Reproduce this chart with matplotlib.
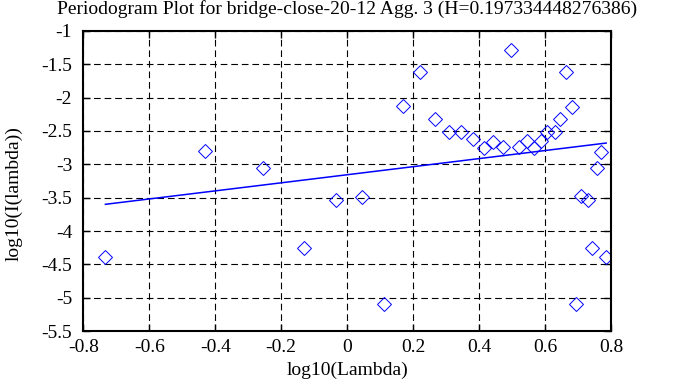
import matplotlib
matplotlib.use("Agg")
import matplotlib.pyplot as plt
import numpy as np

plt.rcParams['font.family'] = ['Liberation Serif', 'DejaVu Serif']
plt.rcParams['axes.unicode_minus'] = False

# Periodogramm-Punkte (log10 Lambda, log10 I(lambda))
log_lambda = [-0.733, -0.431, -0.256, -0.132, -0.034, 0.045, 0.111, 0.170,
              0.220, 0.267, 0.308, 0.344, 0.380, 0.414, 0.442, 0.471, 0.497,
              0.520, 0.544, 0.566, 0.587, 0.607, 0.629, 0.645, 0.664, 0.680,
              0.695, 0.710, 0.730, 0.742, 0.758, 0.770, 0.785]
log_I = [-4.386, -2.795, -3.05, -4.25, -3.535, -3.49, -5.1, -2.125,
         -1.61, -2.325, -2.515, -2.515, -2.625, -2.76, -2.665, -2.735, -1.285,
         -2.74, -2.655, -2.76, -2.645, -2.51, -2.515, -2.325, -1.61, -2.14,
         -5.1, -3.47, -3.54, -4.26, -3.05, -2.81, -4.386]

# Regressionsgerade
slope = 0.6053
intercept = -3.156
H = 0.197334448276386

xt = [-0.8, -0.6, -0.4, -0.2, 0, 0.2, 0.4, 0.6, 0.8]
yt = [-1, -1.5, -2, -2.5, -3, -3.5, -4, -4.5, -5, -5.5]

fig = plt.figure(figsize=(6.95, 3.87), dpi=100)
ax = fig.add_axes([0.1199, 0.1447, 0.7594, 0.7752])

ax.plot(log_lambda, log_I, linestyle='none', marker='D', ms=7.1,
        mfc='none', mec='blue', mew=0.7)
xf = np.array([min(log_lambda), max(log_lambda)])
ax.plot(xf, slope * xf + intercept, color='blue', lw=1.1)

ax.set_xlim(-0.8, 0.8)
ax.set_ylim(-5.5, -1)
ax.set_xticks(xt)
ax.set_xticklabels(['-0.8', '-0.6', '-0.4', '-0.2', '0', '0.2', '0.4', '0.6', '0.8'])
ax.set_yticks(yt)
ax.set_yticklabels(['-1', '-1.5', '-2', '-2.5', '-3', '-3.5', '-4', '-4.5', '-5', '-5.5'])
ax.tick_params(direction='in', length=5, width=1, top=True, right=True,
               labelsize=14, colors='black')
ax.tick_params(axis='y', pad=8)
ax.tick_params(axis='x', pad=6)
ax.grid(True, color='black', linestyle=(0, (6, 3.5)), linewidth=0.8)
for s in ax.spines.values():
    s.set_linewidth(1.5)

fig.suptitle('Periodogram Plot for bridge-close-20-12 Agg. 3 (H=%s)' % H,
             fontsize=14, x=0.4996, y=1.0, va='top')
ax.set_xlabel('log10(Lambda)', fontsize=14, labelpad=4)
ax.set_ylabel('log10(I(lambda))', fontsize=14)
ax.yaxis.set_label_coords(-0.115, 0.457)

plt.savefig('out.png', dpi=100)
